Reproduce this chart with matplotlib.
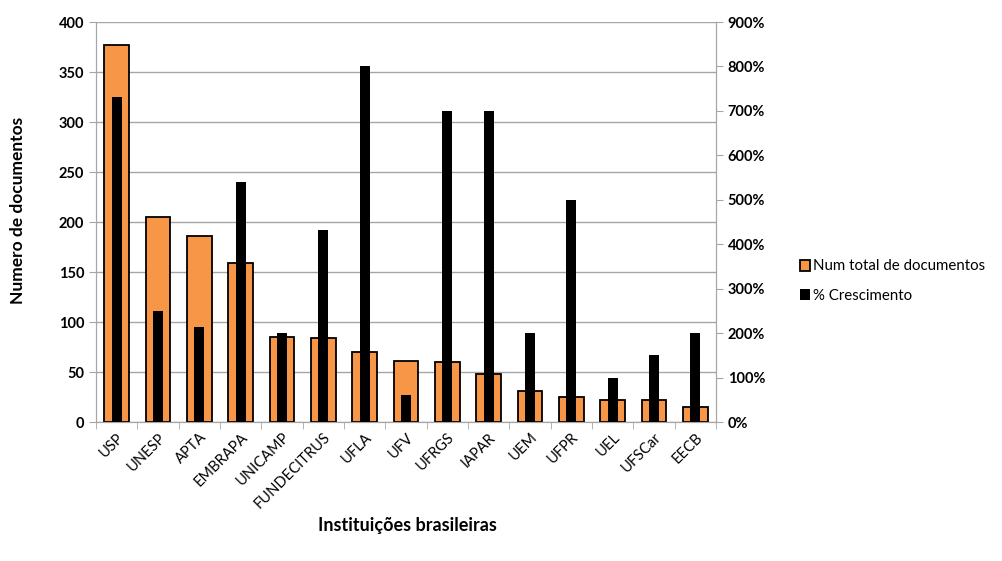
import numpy as np
import matplotlib
matplotlib.use("Agg")
import matplotlib.pyplot as plt
from matplotlib.ticker import FuncFormatter, MultipleLocator

plt.rcParams["font.family"] = ["Lato", "DejaVu Sans"]

instituicoes = ["USP", "UNESP", "APTA", "EMBRAPA", "UNICAMP", "FUNDECITRUS", "UFLA",
                "UFV", "UFRGS", "IAPAR", "UEM", "UFPR", "UEL", "UFSCar", "EECB"]
num_docs = [377, 205, 186, 159, 85, 84, 70, 61, 60, 48, 31, 25, 22, 22, 15]
crescimento = [731, 250, 213, 540, 200, 433, 800, 60, 700, 700, 200, 500, 100, 150, 200]

fig = plt.figure(figsize=(10.03, 5.61), dpi=100)
ax = fig.add_axes([96/1003, 1-422/561, 620/1003, 400/561])
ax2 = ax.twinx()

x = np.arange(len(instituicoes))
b1 = ax.bar(x, num_docs, width=0.6, color="#F79646", edgecolor="black", linewidth=1.3,
            label="Num total de documentos", zorder=3)
b2 = ax2.bar(x, crescimento, width=0.24, color="black", label="% Crescimento", zorder=3)

ax.set_xlim(-0.5, len(x) - 0.5)
ax.set_ylim(0, 400)
ax2.set_ylim(0, 900)
ax.yaxis.set_major_locator(MultipleLocator(50))
ax2.yaxis.set_major_locator(MultipleLocator(100))
ax2.yaxis.set_major_formatter(FuncFormatter(lambda v, p: f"{v:.0f}%"))

ax.grid(axis="y", color="#a6a6a6", linewidth=1, zorder=0)
ax.set_axisbelow(True)

for a in (ax, ax2):
    a.spines["top"].set_visible(False)
    for s in ("left", "right", "bottom"):
        a.spines[s].set_color("#a6a6a6")
    a.tick_params(axis="y", colors="#a6a6a6", labelcolor="black", labelsize=10.5, length=5)

ax.set_xticks(x)
ax.set_xticklabels(instituicoes, rotation=45, ha="right", rotation_mode="anchor", fontsize=10.5)
ax.set_xticks(np.arange(-0.5, len(x)), minor=True)
ax.tick_params(axis="x", which="major", length=0, pad=6)
ax.tick_params(axis="x", which="minor", length=5, color="#a6a6a6")
for lab in ax.get_yticklabels() + ax2.get_yticklabels():
    lab.set_fontweight("bold")

fig.text(18/1003, 1-210/561, "Numero de documentos", rotation=90, ha="center", va="center",
         fontsize=12.5, fontweight="bold")
fig.text(407/1003, 1-525/561, "Instituições brasileiras", ha="center", va="center",
         fontsize=13, fontweight="bold")

fig.legend([b1, b2], ["Num total de documentos", "% Crescimento"],
           loc="center left", bbox_to_anchor=(794/1003, 1-281/561), frameon=False,
           fontsize=10.8, handlelength=0.7, handleheight=0.7, handletextpad=0.2,
           labelspacing=1.0, borderaxespad=0)

fig.savefig("out.png", dpi=100)
